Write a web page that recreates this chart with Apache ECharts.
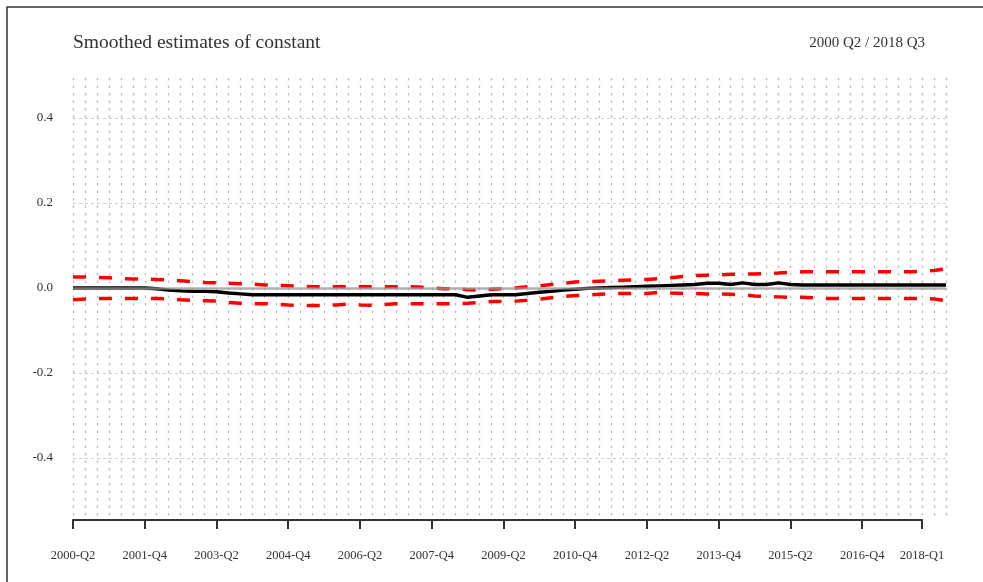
<!DOCTYPE html>
<html><head><meta charset="utf-8">
<script src="https://cdn.jsdelivr.net/npm/echarts@6/dist/echarts.min.js"></script>
<style>html,body{margin:0;padding:0;background:#fff}#c{width:983px;height:582px}</style>
</head><body><div id="c"></div>
<script>
// Quarters 2000-Q2 .. 2018-Q3
var quarters = [];
for (var y = 2000; y <= 2018; y++) for (var q = 1; q <= 4; q++) {
  if ((y === 2000 && q < 2) || (y === 2018 && q > 3)) continue;
  quarters.push(y + '-Q' + q);
}
var axisQuarters = quarters.slice(0, 72); // axis drawn up to 2018-Q1
var yTicks = [0.4, 0.2, 0, -0.2, -0.4];

var estimate = [0,0,0,0,0,0,0,-0.002,-0.005,-0.007,-0.008,-0.008,-0.009,-0.012,-0.014,-0.016,
  -0.016,-0.016,-0.016,-0.016,-0.016,-0.016,-0.016,-0.016,-0.016,-0.016,-0.016,-0.016,-0.016,-0.016,-0.016,-0.016,-0.016,
  -0.022,-0.019,-0.016,-0.016,-0.016,-0.013,-0.010,-0.008,-0.005,-0.003,-0.001,0,0.001,0.002,0.003,0.004,0.005,0.006,0.007,0.008,
  0.011,0.011,0.008,0.012,0.008,0.008,0.012,0.008,
  0.007,0.007,0.007,0.007,0.007,0.007,0.007,0.007,0.007,0.007,0.007,0.007,0.007];
var upper = [0.026,0.026,0.025,0.024,0.022,0.021,0.021,0.020,0.019,0.017,0.015,0.013,0.012,0.011,0.010,0.009,
  0.007,0.006,0.005,0.004,0.003,0.003,0.003,0.003,0.003,0.003,0.003,0.003,0.003,0.002,0.000,-0.002,-0.002,
  -0.004,-0.005,-0.003,-0.002,0.000,0.003,0.005,0.008,0.011,0.014,0.015,0.016,0.017,0.018,0.019,0.020,0.022,0.024,0.027,0.029,
  0.030,0.031,0.032,0.033,0.033,0.034,0.035,0.037,
  0.038,0.038,0.038,0.038,0.038,0.038,0.038,0.038,0.038,0.038,0.039,0.041,0.045];
var lower = [-0.028,-0.026,-0.025,-0.025,-0.025,-0.025,-0.025,-0.025,-0.026,-0.028,-0.029,-0.030,-0.031,-0.034,-0.036,-0.037,
  -0.037,-0.038,-0.040,-0.041,-0.041,-0.041,-0.040,-0.038,-0.040,-0.041,-0.039,-0.037,-0.037,-0.037,-0.037,-0.037,-0.037,
  -0.036,-0.034,-0.032,-0.032,-0.031,-0.029,-0.026,-0.023,-0.020,-0.018,-0.017,-0.015,-0.013,-0.013,-0.013,-0.013,-0.010,-0.012,-0.013,-0.013,
  -0.014,-0.014,-0.015,-0.016,-0.019,-0.020,-0.021,-0.022,
  -0.022,-0.023,-0.025,-0.025,-0.025,-0.025,-0.025,-0.025,-0.025,-0.025,-0.025,-0.026,-0.030];

var FONT = '"Liberation Serif", "DejaVu Serif", serif';
var chart = echarts.init(document.getElementById('c'), null, {renderer: 'canvas'});
var showIdx = function (i) { return i % 6 === 0 || i === 71; };

chart.setOption({
  animation: false,
  backgroundColor: '#fff',
  graphic: [{type: 'rect', shape: {x: 7, y: 7, width: 1000, height: 600},
    style: {fill: 'none', stroke: '#333', lineWidth: 1.5}, silent: true}],
  title: [
    {text: 'Smoothed estimates of constant', left: 73, top: 33, padding: 0,
      textStyle: {fontFamily: FONT, fontSize: 19.5, fontWeight: 'normal', color: '#333'}},
    {text: '2000 Q2 / 2018 Q3', right: 58, top: 35.5, padding: 0,
      textStyle: {fontFamily: FONT, fontSize: 15, fontWeight: 'normal', color: '#333'}}
  ],
  grid: [
    {left: 73, right: 37, top: 78, bottom: 62, containLabel: false},
    {left: 73, right: 61, top: 78, bottom: 62, containLabel: false}
  ],
  xAxis: [
    {type: 'category', gridIndex: 0, data: quarters, boundaryGap: false,
      axisLine: {show: false, onZero: false}, axisTick: {show: false}, axisLabel: {show: false},
      splitLine: {show: true, interval: 0, lineStyle: {color: '#bdbdbd', width: 1.3, type: [2.5, 5]}}},
    {type: 'category', gridIndex: 1, data: axisQuarters, boundaryGap: false, position: 'bottom',
      axisLine: {show: true, onZero: false, lineStyle: {color: '#333', width: 2}},
      axisTick: {show: true, interval: showIdx, length: 9, lineStyle: {color: '#333', width: 2}},
      axisLabel: {show: true, interval: showIdx, margin: 29, fontFamily: FONT, fontSize: 12.5, color: '#333'},
      splitLine: {show: false}}
  ],
  yAxis: [
    {type: 'value', gridIndex: 0, min: -0.546, max: 0.494,
      axisLine: {show: false}, axisTick: {show: false}, splitLine: {show: false},
      axisLabel: {show: true, margin: 20, fontFamily: FONT, fontSize: 13, color: '#333',
        showMinLabel: false, showMaxLabel: false,
        formatter: function (v) {
          for (var k = 0; k < yTicks.length; k++) if (Math.abs(v - yTicks[k]) < 1e-9) return yTicks[k].toFixed(1);
          return '';
        }}},
    {type: 'value', gridIndex: 1, min: -0.546, max: 0.494, show: false}
  ],
  series: [
    {type: 'line', xAxisIndex: 0, yAxisIndex: 0, data: [], silent: true, z: 1,
      markLine: {silent: true, symbol: 'none', label: {show: false},
        lineStyle: {color: '#cfcfcf', width: 1, type: [3, 3]},
        data: yTicks.filter(function (t) { return t !== 0; }).map(function (t) { return {yAxis: t}; })}},
    {name: 'upper', type: 'line', xAxisIndex: 0, yAxisIndex: 0, data: upper, symbol: 'none', z: 3,
      lineStyle: {color: '#ff0000', width: 3.5, type: [13, 13]}},
    {name: 'lower', type: 'line', xAxisIndex: 0, yAxisIndex: 0, data: lower, symbol: 'none', z: 3,
      lineStyle: {color: '#ff0000', width: 3.5, type: [13, 13]}},
    {name: 'estimate', type: 'line', xAxisIndex: 0, yAxisIndex: 0, data: estimate, symbol: 'none', z: 4,
      lineStyle: {color: '#000', width: 3.4}},
    {type: 'line', xAxisIndex: 0, yAxisIndex: 0, data: [], silent: true, z: 5,
      markLine: {silent: true, symbol: 'none', label: {show: false},
        lineStyle: {color: 'rgba(150,150,150,0.75)', width: 2.5, type: 'solid'},
        data: [{yAxis: 0}]}}
  ]
});
</script></body></html>
